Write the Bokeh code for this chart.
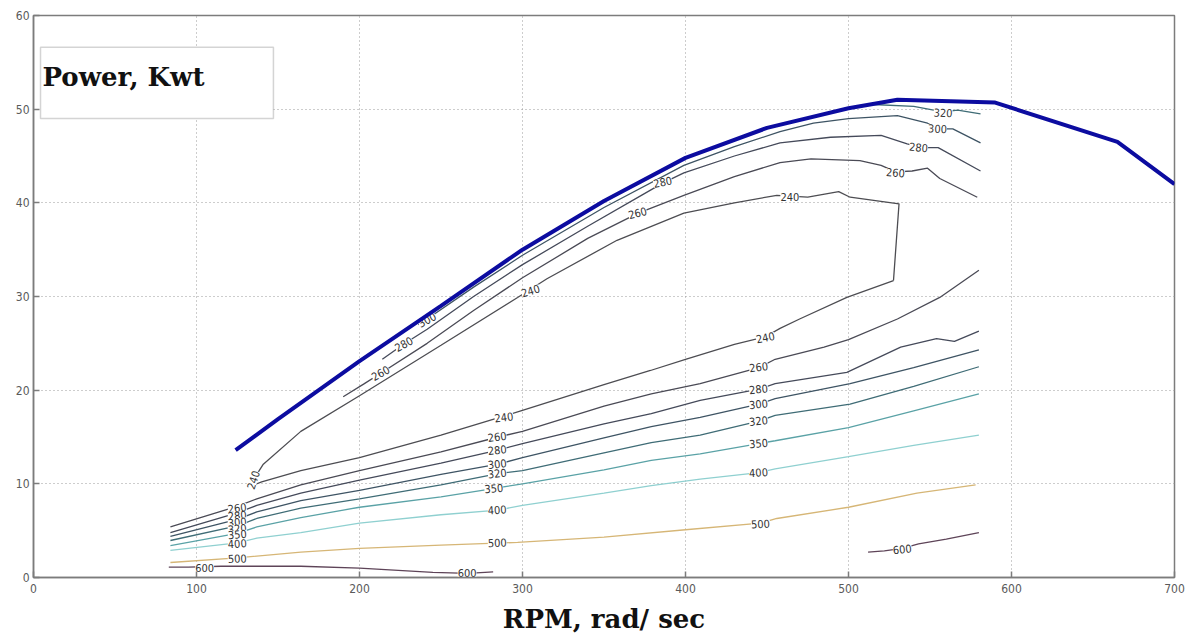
from bokeh.plotting import figure
from bokeh.models import Range1d, FixedTicker, Label, BoxAnnotation
from bokeh.embed import file_html
from bokeh.resources import INLINE
from bokeh.core.properties import value

# ---------------- data ----------------
x_ticks = [0, 100, 200, 300, 400, 500, 600, 700]
y_ticks = [0, 10, 20, 30, 40, 50, 60]

power_rpm = [124, 150, 200, 250, 300, 350, 400, 450, 500, 530, 590, 665, 700]
power_kw = [13.6, 16.9, 23.1, 29.0, 35.0, 40.2, 44.8, 48.0, 50.1, 51.0, 50.7, 46.5, 42.0]

# contour 240 (closed loop of the efficiency island)
c240_x = [527.6, 499, 470, 458, 449, 430, 400, 378.5, 350, 299, 288, 250, 200, 164, 140, 134,
          137, 141, 164, 200, 250, 297, 315, 358, 399, 430, 456, 475, 494, 501, 531, 527.6]
c240_y = [31.7, 29.9, 27.6, 26.6, 25.7, 24.9, 23.3, 22.1, 20.6, 17.8, 17.2, 15.2, 12.8, 11.4, 10.2, 9.8,
          11.0, 12.1, 15.6, 19.4, 24.8, 29.9, 31.9, 36.0, 38.9, 40.0, 40.8, 40.6, 41.2, 40.6, 39.9, 31.7]

# upper contours near the power envelope
c260u_x = [190, 203, 213, 241.5, 270, 300, 340, 371, 399, 430, 458, 477, 507, 520, 529, 539, 548.5, 556, 579]
c260u_y = [19.3, 20.7, 21.8, 25.0, 28.5, 32.0, 36.2, 38.9, 40.8, 42.8, 44.3, 44.7, 44.5, 44.0, 43.3, 43.4, 43.7, 42.6, 40.6]
c280u_x = [214, 227, 241.5, 270, 300, 340, 374, 386, 399, 430, 458, 489, 520, 536, 545, 555, 581]
c280u_y = [23.3, 24.9, 26.5, 30.0, 33.4, 37.5, 40.9, 42.1, 43.2, 45.0, 46.4, 47.0, 47.2, 46.3, 45.9, 45.9, 43.4]
c300u_x = [236, 241.5, 270, 300, 350, 399, 430, 458, 478.5, 500, 530, 548.5, 555, 564, 581]
c300u_y = [27.0, 27.6, 31.0, 34.4, 39.5, 44.0, 46.0, 47.6, 48.5, 49.0, 49.3, 48.5, 47.9, 47.9, 46.4]
c320u_x = [515, 540, 558, 567, 581]
c320u_y = [50.5, 50.3, 49.7, 49.9, 49.5]

# lower band contours
c260l_x = [84, 125, 137, 164, 200, 250, 285, 300, 350, 379, 409, 445, 455, 485, 500, 530, 556, 580]
c260l_y = [5.4, 7.6, 8.4, 9.9, 11.4, 13.4, 15.0, 15.6, 18.3, 19.6, 20.7, 22.4, 23.3, 24.6, 25.4, 27.6, 29.9, 32.8]
c280l_x = [84, 125, 137, 164, 200, 250, 285, 300, 350, 379, 409, 445, 455, 499, 532, 554, 565, 580]
c280l_y = [4.8, 6.9, 7.7, 9.0, 10.4, 12.2, 13.6, 14.3, 16.4, 17.5, 18.9, 20.1, 20.7, 21.9, 24.6, 25.5, 25.2, 26.3]
c300l_x = [84, 125, 137, 164, 200, 250, 285, 300, 350, 379, 409, 445, 455, 501, 540, 580]
c300l_y = [4.4, 6.2, 7.0, 8.2, 9.3, 11.0, 12.1, 12.8, 14.9, 16.1, 17.1, 18.5, 19.1, 20.7, 22.4, 24.3]
c320l_x = [84, 125, 137, 164, 200, 250, 285, 300, 350, 379, 409, 445, 455, 501, 540, 580]
c320l_y = [3.95, 5.5, 6.3, 7.4, 8.4, 9.9, 11.1, 11.4, 13.3, 14.4, 15.2, 16.7, 17.3, 18.5, 20.4, 22.5]
c350_x = [84, 125, 137, 164, 200, 250, 282, 300, 350, 379, 409, 445, 455, 500, 540, 580]
c350_y = [3.4, 4.7, 5.4, 6.4, 7.5, 8.6, 9.5, 10.0, 11.5, 12.5, 13.2, 14.3, 14.6, 16.0, 17.8, 19.6]
c400_x = [84, 125, 137, 164, 200, 250, 285, 300, 350, 379, 409, 445, 455, 500, 540, 580]
c400_y = [2.9, 3.7, 4.2, 4.8, 5.8, 6.7, 7.2, 7.7, 9.0, 9.8, 10.5, 11.2, 11.6, 12.9, 14.1, 15.2]
c500_x = [84, 125, 164, 200, 250, 297, 350, 400, 446, 456, 500, 542, 578]
c500_y = [1.6, 2.1, 2.7, 3.1, 3.45, 3.75, 4.3, 5.1, 5.8, 6.3, 7.5, 9.0, 9.9]
c600a_x = [83, 95, 115, 164, 200, 245, 256, 266, 277, 282]
c600a_y = [1.1, 1.1, 1.2, 1.2, 1.0, 0.55, 0.5, 0.45, 0.55, 0.6]
c600b_x = [512, 522, 533, 543, 560, 580]
c600b_y = [2.7, 2.85, 3.1, 3.6, 4.1, 4.8]

contour_levels = [240, 260, 260, 280, 280, 300, 300, 320, 320, 350, 400, 500, 600, 600]
contour_xs = [c240_x, c260u_x, c260l_x, c280u_x, c280l_x, c300u_x, c300l_x, c320u_x, c320l_x,
              c350_x, c400_x, c500_x, c600a_x, c600b_x]
contour_ys = [c240_y, c260u_y, c260l_y, c280u_y, c280l_y, c300u_y, c300l_y, c320u_y, c320l_y,
              c350_y, c400_y, c500_y, c600a_y, c600b_y]

# contour labels
lab_text = ["240", "240", "240", "240", "240",
            "260", "280", "300", "260", "280",
            "260", "280", "300", "320",
            "260", "280", "300", "320", "350", "400", "500", "600",
            "260", "280", "300", "320", "350", "400", "500", "600",
            "260", "280", "300", "320", "350", "400", "500", "600"]
lab_x = [135, 305, 464, 449, 288.6,
         212.9, 227.2, 241.5, 370.6, 386,
         528.8, 543, 554.6, 558,
         125, 125, 125, 125, 125, 125, 125, 105,
         284.5, 284.5, 284.5, 284.5, 282.4, 284.5, 284.5, 266,
         444.8, 444.8, 444.8, 444.8, 444.8, 444.8, 446, 533]
lab_y = [10.4, 30.6, 40.6, 25.6, 17.1,
         21.8, 24.9, 27.5, 38.9, 42.2,
         43.2, 45.9, 47.9, 49.6,
         7.4, 6.6, 5.9, 5.2, 4.6, 3.6, 2.0, 1.0,
         15.0, 13.6, 12.1, 11.1, 9.5, 7.2, 3.7, 0.45,
         22.45, 20.1, 18.5, 16.7, 14.3, 11.2, 5.7, 3.0]
lab_angle = [1.25, 0.3, 0.0, 0.2, 0.12,
             0.5, 0.5, 0.5, 0.25, 0.2,
             -0.08, -0.1, -0.05, -0.05,
             0.12, 0.1, 0.1, 0.1, 0.08, 0.06, 0.03, 0.0,
             0.12, 0.1, 0.1, 0.1, 0.08, 0.06, 0.03, 0.0,
             0.12, 0.1, 0.1, 0.1, 0.08, 0.06, 0.05, 0.1]

level_colors = {240: "#4d4d52", 260: "#4a4a55", 280: "#454a5a", 300: "#3e5464",
                320: "#3f6c76", 350: "#5aa2a6", 400: "#8fd0d0", 500: "#d6b676", 600: "#5e4458"}

# ---------------- figure ----------------
TICK_FONT = "'DejaVu Sans Condensed', 'Liberation Sans Narrow', 'DejaVu Sans', sans-serif"
SERIF = "DejaVu Serif"

p = figure(width=1190, height=639, output_backend="svg", toolbar_location=None,
           x_range=Range1d(0, 700), y_range=Range1d(0, 60),
           min_border_left=33, min_border_right=16, min_border_top=15, min_border_bottom=62)
p.background_fill_color = "white"
p.border_fill_color = "white"
p.outline_line_color = "#7c7c7c"
p.outline_line_width = 1.5

for ax, ticks in ((p.xaxis[0], x_ticks), (p.yaxis[0], y_ticks)):
    ax.ticker = FixedTicker(ticks=ticks)
    ax.major_tick_in = 6
    ax.major_tick_out = 0
    ax.minor_tick_line_color = None
    ax.axis_line_color = "#7c7c7c"
    ax.axis_line_width = 1.5
    ax.major_tick_line_color = "#7c7c7c"
    ax.major_tick_line_width = 1.5
    ax.major_label_text_font = TICK_FONT
    ax.major_label_text_font_size = "12px"
    ax.major_label_text_color = "#5a5a5a"
p.xaxis.major_label_standoff = 6
p.yaxis.major_label_standoff = 4

# x axis title
p.xaxis.axis_label = "RPM, rad/ sec"
p.xaxis.axis_label_text_font = SERIF
p.xaxis.axis_label_text_font_style = "bold"
p.xaxis.axis_label_text_font_size = "26px"
p.xaxis.axis_label_text_color = "#111111"
p.xaxis.axis_label_standoff = 8

p.xgrid.ticker = FixedTicker(ticks=x_ticks)
p.ygrid.ticker = FixedTicker(ticks=y_ticks)
for g in (p.xgrid, p.ygrid):
    g.grid_line_color = "#9a9a9a"
    g.grid_line_dash = "1 3"
    g.grid_line_width = 1

# contour lines
for lvl, xs, ys in zip(contour_levels, contour_xs, contour_ys):
    p.line(xs, ys, line_color=level_colors[lvl], line_width=1.3)

# contour labels
p.text(x=lab_x, y=lab_y, text=lab_text, angle=lab_angle,
       text_align="center", text_baseline="middle",
       text_font=value(TICK_FONT), text_font_size="11px", text_color="#333333",
       background_fill_color="white")

# power envelope
p.line(power_rpm, power_kw, line_color="#0c0ca0", line_width=4)

# legend-like box
box = BoxAnnotation(left=4.3, right=147.2, bottom=49.0, top=56.6,
                    fill_color="white", fill_alpha=1.0, line_color="#6f6f6f", line_width=1.5)
p.add_layout(box)
p.add_layout(Label(x=5.5, y=53.4, text="Power, Kwt", text_font=SERIF, text_font_style="bold",
                   text_font_size="26px", text_color="#111111", text_baseline="alphabetic"))

open("out.html", "w").write(file_html(p, INLINE))
